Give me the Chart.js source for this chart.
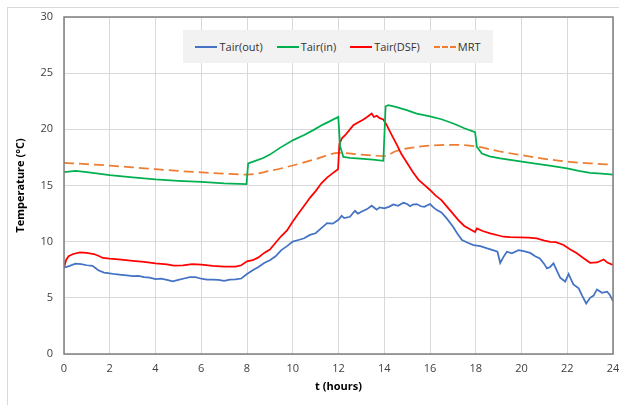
<!DOCTYPE html>
<html>
<head>
<meta charset="utf-8">
<script src="https://cdn.jsdelivr.net/npm/chart.js@4"></script>
<style>
    html, body { margin: 0; padding: 0; background: #fff; }
    .wrap { position: relative; width: 619px; height: 405px; overflow: hidden; }
    .frame { position: absolute; left: 7px; top: 7px; width: 640px; height: 420px; border: 1px solid #d9d9d9; box-sizing: border-box; }
    canvas { position: absolute; left: 0; top: 0; }
    .legend {
        position: absolute; left: 183px; top: 30px; width: 310px; height: 33px;
        background: #f2f2f2; display: flex; align-items: center; justify-content: center;
        font-family: "Open Sans", sans-serif; font-size: 11px; color: #333;
    }
    .legend .item { display: flex; align-items: center; margin: 0 7px; }
    .legend .swatch { width: 22px; height: 0; margin-right: 2px; border-top-width: 2px; border-top-style: solid; }
</style>
</head>
<body>
<div class="wrap">
    <div class="frame"></div>
    <canvas id="tempChart" width="619" height="405"></canvas>
    <div class="legend" id="legend"></div>
</div>
<script>
// Tair(out)
const tOut = [0, 0.25, 0.5, 0.75, 1, 1.25, 1.5, 1.75, 2, 2.25, 2.5, 2.75, 3, 3.25, 3.5, 3.75, 4, 4.25, 4.5, 4.75,
    5, 5.25, 5.5, 5.75, 6, 6.25, 6.5, 6.75, 7, 7.25, 7.5, 7.75, 8, 8.25, 8.5, 8.75, 9, 9.25, 9.5, 9.75,
    10, 10.25, 10.5, 10.75, 11, 11.25, 11.5, 11.75, 12, 12.14, 12.25, 12.5, 12.72, 12.85, 13, 13.25, 13.45, 13.67, 13.8,
    14, 14.2, 14.4, 14.6, 14.84, 15, 15.13, 15.25, 15.42, 15.6, 15.75, 16, 16.15, 16.3, 16.5, 16.73,
    17, 17.2, 17.4, 17.65, 17.9, 18.2, 18.5, 18.75, 18.95, 19.07, 19.2, 19.36, 19.58, 19.87,
    20.1, 20.38, 20.6, 20.8, 21, 21.11, 21.25, 21.4, 21.55, 21.69, 21.91, 22.06, 22.15, 22.27, 22.5, 22.65, 22.83,
    23, 23.15, 23.3, 23.52, 23.74, 23.85, 24];
const tairOut = [7.68, 7.85, 8.05, 8.0, 7.9, 7.85, 7.45, 7.25, 7.18, 7.1, 7.05, 7.0, 6.94, 6.95, 6.85, 6.8, 6.67, 6.7, 6.6, 6.47,
    6.6, 6.72, 6.85, 6.85, 6.7, 6.62, 6.62, 6.6, 6.52, 6.62, 6.64, 6.72, 7.12, 7.45, 7.75, 8.1, 8.35, 8.7, 9.25, 9.6,
    10.0, 10.15, 10.3, 10.6, 10.75, 11.2, 11.65, 11.6, 11.95, 12.3, 12.1, 12.22, 12.75, 12.5, 12.66, 12.9, 13.2, 12.85, 13.05,
    12.96, 13.1, 13.32, 13.2, 13.46, 13.35, 13.15, 13.3, 13.35, 13.15, 13.1, 13.35, 13.05, 12.81, 12.6, 12.07,
    11.35, 10.7, 10.14, 9.9, 9.7, 9.6, 9.4, 9.25, 9.1, 8.1, 8.6, 9.1, 8.96, 9.25,
    9.15, 9.0, 8.7, 8.5, 8.0, 7.62, 7.75, 8.07, 7.4, 6.8, 6.45, 7.12, 6.7, 6.2, 5.84, 5.2, 4.5,
    5.0, 5.2, 5.75, 5.45, 5.55, 5.3, 4.7];

// Tair(in)
const tIn = [0, 0.5, 1, 2, 3, 4, 5, 6, 7, 7.98, 8.05, 8.3, 8.71, 9, 9.44, 10.02, 10.5, 10.9, 11.3, 11.63, 11.99,
    12.07, 12.21, 12.5, 12.8, 13.5, 13.96, 14.06, 14.18, 14.5, 14.98, 15.42, 16, 16.5, 17.02, 17.5, 17.97,
    18.05, 18.27, 18.6, 19.07, 19.8, 20.53, 21.3, 21.99, 22.5, 23, 23.5, 24];
const tairIn = [16.2, 16.3, 16.2, 15.93, 15.73, 15.54, 15.42, 15.33, 15.2, 15.12, 16.97, 17.15, 17.45, 17.75, 18.35, 19.04, 19.5, 19.93, 20.4, 20.73, 21.11,
    18.5, 17.55, 17.45, 17.41, 17.3, 17.2, 22.05, 22.15, 22.0, 21.71, 21.4, 21.15, 20.9, 20.52, 20.1, 19.75,
    18.44, 17.85, 17.6, 17.41, 17.2, 16.97, 16.75, 16.52, 16.3, 16.13, 16.05, 15.97];

// Tair(DSF)
const tDsf = [0, 0.1, 0.2, 0.4, 0.7, 1, 1.3, 1.5, 1.7, 2, 2.5, 3, 3.5, 4, 4.5, 4.8, 5.2, 5.6, 6, 6.5, 7, 7.5, 7.75,
    8, 8.25, 8.5, 8.75, 9, 9.25, 9.5, 9.75, 10, 10.25, 10.5, 10.75, 11, 11.25, 11.5, 11.75, 11.98,
    12.04, 12.15, 12.3, 12.5, 12.65, 12.85, 13.09, 13.25, 13.45, 13.55, 13.67, 13.8, 13.96,
    14.11, 14.3, 14.56, 14.75, 15, 15.25, 15.5, 15.75, 16, 16.25, 16.5, 16.75, 17, 17.25, 17.5, 17.75, 17.97,
    18.05, 18.3, 18.63, 19, 19.21, 19.5, 19.94, 20.3, 20.67, 21, 21.26, 21.5, 21.84, 22.1, 22.42, 22.7,
    23, 23.3, 23.59, 23.75, 24];
const tairDsf = [7.7, 8.4, 8.7, 8.9, 9.05, 9.0, 8.9, 8.75, 8.55, 8.48, 8.4, 8.3, 8.2, 8.07, 7.98, 7.86, 7.9, 8.0, 7.95, 7.85, 7.78, 7.78, 7.9,
    8.25, 8.35, 8.6, 9.0, 9.3, 9.9, 10.5, 11.0, 11.8, 12.5, 13.2, 13.9, 14.5, 15.2, 15.7, 16.1, 16.45,
    18.7, 19.2, 19.5, 20.0, 20.37, 20.6, 20.88, 21.1, 21.41, 21.1, 21.2, 21.0, 20.88,
    20.37, 19.6, 18.6, 17.8, 17.0, 16.2, 15.5, 15.05, 14.6, 14.1, 13.7, 13.1, 12.5, 11.9, 11.4, 11.1, 10.85,
    11.18, 10.95, 10.74, 10.55, 10.44, 10.4, 10.38, 10.35, 10.29, 10.1, 9.99, 9.95, 9.7, 9.35, 8.96, 8.55,
    8.12, 8.15, 8.42, 8.15, 7.92];

// MRT
const tMrt = [0, 1, 2, 3, 4, 5, 6, 7, 8, 9, 10, 11, 12, 13, 14, 14.5, 15, 16, 17, 18, 19, 20, 21, 22, 23, 24];
const mrt = [17.02, 16.9, 16.77, 16.62, 16.45, 16.3, 16.17, 16.05, 15.97, 16.3, 16.78, 17.35, 17.9, 17.75, 17.62, 18.05,
    18.3, 18.55, 18.62, 18.48, 18.05, 17.7, 17.38, 17.12, 16.98, 16.85];

const xTicks = [0, 2, 4, 6, 8, 10, 12, 14, 16, 18, 20, 22, 24];
const yTicks = [0, 5, 10, 15, 20, 25, 30];

function pairs(xs, ys) {
    return xs.map((x, i) => ({ x: x, y: ys[i] }));
}

// plot area border (all four sides)
const plotBorder = {
    id: 'plotBorder',
    afterDraw(chart) {
        const { ctx, chartArea } = chart;
        ctx.save();
        ctx.strokeStyle = '#7f7f7f';
        ctx.lineWidth = 1.5;
        ctx.strokeRect(chartArea.left, chartArea.top, chartArea.right - chartArea.left, chartArea.bottom - chartArea.top);
        ctx.restore();
    }
};

document.addEventListener('DOMContentLoaded', function() {
    const ctx = document.getElementById('tempChart').getContext('2d');
    const chart = new Chart(ctx, {
        type: 'line',
        data: {
            datasets: [
                { label: 'Tair(out)', data: pairs(tOut, tairOut), borderColor: '#4472C4', borderWidth: 1.75, pointRadius: 0, tension: 0 },
                { label: 'Tair(in)', data: pairs(tIn, tairIn), borderColor: '#00B050', borderWidth: 1.75, pointRadius: 0, tension: 0 },
                { label: 'Tair(DSF)', data: pairs(tDsf, tairDsf), borderColor: '#FF0000', borderWidth: 1.75, pointRadius: 0, tension: 0 },
                { label: 'MRT', data: pairs(tMrt, mrt), borderColor: '#ED7D31', borderWidth: 1.75, borderDash: [10, 5], pointRadius: 0, cubicInterpolationMode: 'monotone' }
            ]
        },
        options: {
            responsive: false,
            animation: false,
            layout: { padding: { top: 17, right: 6, bottom: 0, left: 0 } },
            plugins: {
                legend: { display: false },
                tooltip: { enabled: false }
            },
            scales: {
                x: {
                    type: 'linear',
                    min: 0,
                    max: 24,
                    afterFit: function(scale) {
                        scale.height = 51;
                        scale.paddingLeft = 0;
                        scale.paddingRight = 0;
                    },
                    afterBuildTicks: function(scale) { scale.ticks = xTicks.map(v => ({ value: v })); },
                    grid: { color: '#d9d9d9', drawTicks: false },
                    border: { display: false },
                    ticks: { padding: 8, color: '#404040', font: { family: 'Open Sans', size: 11 }, maxRotation: 0 },
                    title: { display: true, text: 't (hours)', color: '#000', font: { family: 'Open Sans', size: 11, weight: 'bold' }, padding: { top: 0, bottom: 12 } }
                },
                y: {
                    min: 0,
                    max: 30,
                    afterFit: function(scale) {
                        scale.width = 64;
                        scale.paddingTop = 0;
                        scale.paddingBottom = 0;
                    },
                    afterBuildTicks: function(scale) { scale.ticks = yTicks.map(v => ({ value: v })); },
                    grid: { color: '#d9d9d9', drawTicks: false },
                    border: { display: false },
                    ticks: { padding: 11, color: '#404040', font: { family: 'Open Sans', size: 11 } },
                    title: { display: true, text: 'Temperature (°C)', color: '#000', font: { family: 'Open Sans', size: 11, weight: 'bold' }, padding: { top: 14, bottom: 0 } }
                }
            }
        },
        plugins: [plotBorder]
    });

    // HTML legend inside the plot
    const legend = document.getElementById('legend');
    chart.data.datasets.forEach(ds => {
        const item = document.createElement('div');
        item.className = 'item';
        const sw = document.createElement('span');
        sw.className = 'swatch';
        sw.style.borderTopColor = ds.borderColor;
        if (ds.borderDash) sw.style.borderTopStyle = 'dashed';
        const label = document.createElement('span');
        label.textContent = ds.label;
        item.appendChild(sw);
        item.appendChild(label);
        legend.appendChild(item);
    });
});
</script>
</body>
</html>
